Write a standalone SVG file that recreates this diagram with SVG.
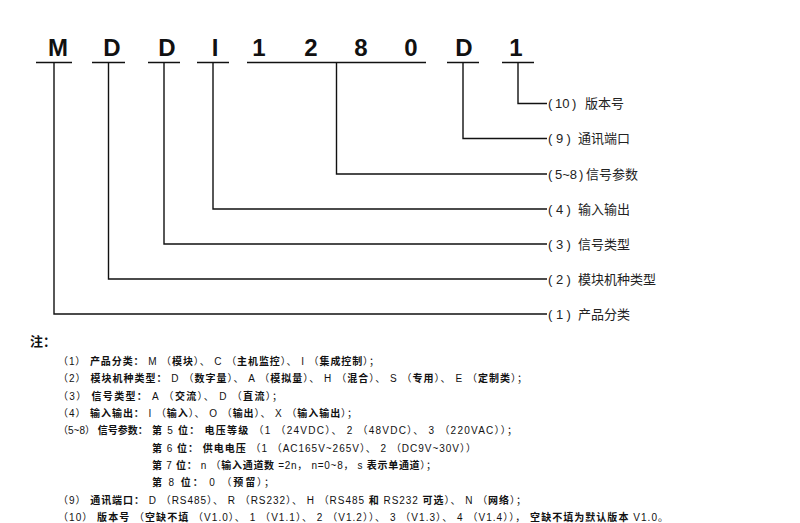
<svg xmlns="http://www.w3.org/2000/svg" width="800" height="523" viewBox="0 0 800 523">
<style>
.code{font-family:"Liberation Sans","Noto Sans CJK SC",sans-serif;font-size:24px;font-weight:bold;fill:#111;text-anchor:middle}
.ul{stroke:#111;stroke-width:1.5;fill:none}
.con{stroke:#111;stroke-width:1.4;fill:none}
.lbl{font-family:"Liberation Sans","Noto Sans CJK SC",sans-serif;font-size:13px;fill:#222}
.note{font-family:"Liberation Sans","Noto Sans CJK SC",sans-serif;font-size:10px;fill:#111}
.b{font-weight:bold}
.head{font-family:"Liberation Sans","Noto Sans CJK SC",sans-serif;font-size:13px;font-weight:bold;fill:#111}
</style>
<rect width="800" height="523" fill="#fff"/>
<g id="code">
  <g id="c-M"><text class="code" x="58" y="56">M</text><line class="ul" x1="36" y1="62.5" x2="72" y2="62.5"/></g>
  <g id="c-D1"><text class="code" x="112" y="56">D</text><line class="ul" x1="92" y1="62.5" x2="125" y2="62.5"/></g>
  <g id="c-D2"><text class="code" x="167" y="56">D</text><line class="ul" x1="148" y1="62.5" x2="180" y2="62.5"/></g>
  <g id="c-I"><text class="code" x="215" y="56">I</text><line class="ul" x1="197" y1="62.5" x2="229" y2="62.5"/></g>
  <g id="c-1280"><text class="code" x="259" y="56">1</text><text class="code" x="311" y="56">2</text><text class="code" x="361" y="56">8</text><text class="code" x="411" y="56">0</text><line class="ul" x1="247" y1="62.5" x2="426" y2="62.5"/></g>
  <g id="c-D3"><text class="code" x="464" y="56">D</text><line class="ul" x1="447" y1="62.5" x2="479" y2="62.5"/></g>
  <g id="c-1"><text class="code" x="516" y="56">1</text><line class="ul" x1="502" y1="62.5" x2="534" y2="62.5"/></g>
</g>
<g id="connectors">
  <path class="con" d="M54 63 V314 H547"/>
  <path class="con" d="M108.5 63 V279 H547"/>
  <path class="con" d="M164 63 V244 H547"/>
  <path class="con" d="M213 63 V209 H547"/>
  <path class="con" d="M336.5 63 V174 H547"/>
  <path class="con" d="M463 63 V138.5 H547"/>
  <path class="con" d="M518 63 V103.5 H547"/>
</g>
<g id="labels">
  <g id="l10"><text class="lbl" x="548" y="108">(<tspan x="555">10</tspan><tspan x="572">)</tspan><tspan x="585">版本号</tspan></text></g>
  <g id="l9"><text class="lbl" x="548" y="143">(<tspan x="556">9</tspan><tspan x="566.5">)</tspan><tspan x="578">通讯端口</tspan></text></g>
  <g id="l58"><text class="lbl" x="548" y="178.5">(<tspan x="555">5~8</tspan><tspan x="579">)</tspan><tspan x="586">信号参数</tspan></text></g>
  <g id="l4"><text class="lbl" x="548" y="213.5">(<tspan x="556">4</tspan><tspan x="566.5">)</tspan><tspan x="578">输入输出</tspan></text></g>
  <g id="l3"><text class="lbl" x="548" y="248.5">(<tspan x="556">3</tspan><tspan x="566.5">)</tspan><tspan x="578">信号类型</tspan></text></g>
  <g id="l2"><text class="lbl" x="548" y="283.5">(<tspan x="556">2</tspan><tspan x="566.5">)</tspan><tspan x="578">模块机种类型</tspan></text></g>
  <g id="l1"><text class="lbl" x="548" y="318.5">(<tspan x="556">1</tspan><tspan x="566.5">)</tspan><tspan x="578">产品分类</tspan></text></g>
</g>
<g id="notes">
  <text class="head" x="30" y="346">注：</text>
  <text class="note" x="58" y="364.5" textLength="321" lengthAdjust="spacing">（1） <tspan class="b">产品分类：</tspan> M （<tspan class="b">模块</tspan>）、 C （<tspan class="b">主机监控</tspan>）、 I （<tspan class="b">集成控制</tspan>）；</text>
  <text class="note" x="58" y="382" textLength="469" lengthAdjust="spacing">（2） <tspan class="b">模块机种类型：</tspan> D （<tspan class="b">数字量</tspan>）、 A （<tspan class="b">模拟量</tspan>）、 H （<tspan class="b">混合</tspan>）、 S （<tspan class="b">专用</tspan>）、 E （<tspan class="b">定制类</tspan>）；</text>
  <text class="note" x="58" y="399.5" textLength="224" lengthAdjust="spacing">（3） <tspan class="b">信号类型：</tspan> A （<tspan class="b">交流</tspan>）、 D （<tspan class="b">直流</tspan>）；</text>
  <text class="note" x="58" y="417" textLength="299" lengthAdjust="spacing">（4） <tspan class="b">输入输出：</tspan> I （<tspan class="b">输入</tspan>）、 O （<tspan class="b">输出</tspan>）、 X （<tspan class="b">输入输出</tspan>）；</text>
  <text class="note" x="58" y="434">（5~8） <tspan class="b">信号参数：</tspan></text>
  <text class="note" x="152" y="434" textLength="365" lengthAdjust="spacing"><tspan class="b">第</tspan> 5 <tspan class="b">位：</tspan> <tspan class="b">电压等级</tspan> （1 （24VDC）、 2 （48VDC）、 3 （220VAC））；</text>
  <text class="note" x="152" y="451.5" textLength="324" lengthAdjust="spacing"><tspan class="b">第</tspan> 6 <tspan class="b">位：</tspan> <tspan class="b">供电电压</tspan> （1 （AC165V~265V）、 2 （DC9V~30V））</text>
  <text class="note" x="152" y="469" textLength="284" lengthAdjust="spacing"><tspan class="b">第</tspan> 7 <tspan class="b">位：</tspan> n （<tspan class="b">输入通道数</tspan> =2n， n=0~8， s <tspan class="b">表示单通道</tspan>）；</text>
  <text class="note" x="152" y="486" textLength="122" lengthAdjust="spacing"><tspan class="b">第</tspan> 8 <tspan class="b">位：</tspan> 0 （<tspan class="b">预留</tspan>）；</text>
  <text class="note" x="58" y="503.5" textLength="468" lengthAdjust="spacing">（9） <tspan class="b">通讯端口：</tspan> D （RS485）、 R （RS232）、 H （RS485 <tspan class="b">和</tspan> RS232 <tspan class="b">可选</tspan>）、 N （<tspan class="b">网络</tspan>）；</text>
  <text class="note" x="58" y="521" textLength="610" lengthAdjust="spacing">（10） <tspan class="b">版本号</tspan> （<tspan class="b">空缺不填</tspan> （V1.0）、 1 （V1.1）、 2 （V1.2））、 3 （V1.3）、 4 （V1.4））， <tspan class="b">空缺不填为默认版本</tspan> V1.0。</text>
</g>
</svg>
